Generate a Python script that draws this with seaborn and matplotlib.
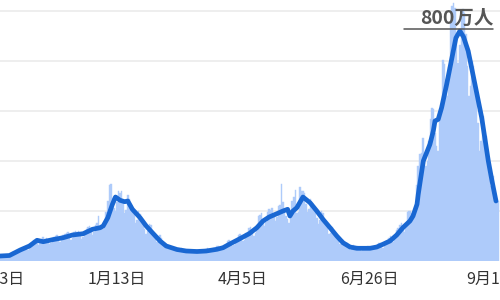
import numpy as np
import pandas as pd
import matplotlib
matplotlib.use("Agg")
import matplotlib.pyplot as plt
from matplotlib.lines import Line2D
import seaborn as sns

# ---- data (day index 0 = 10月23日) ----
tick_days = [0, 82, 164, 246, 328]
tick_labels = ["10月23日", "1月13日", "4月5日", "6月26日", "9月16日"]

daily_cases = [
    550, 580, 480, 420, 480, 560, 600,
    600, 630, 520, 450, 500, 620, 660,
    880, 950, 820, 760, 860, 1080, 1200,
    1350, 1450, 1300, 1150, 1300, 1550, 1700,
    2100, 2200, 1900, 1650, 1800, 2250, 2400,
    2250, 2350, 2000, 1700, 1850, 2300, 2450,
    2500, 2600, 2200, 1900, 2100, 2600, 2750,
    2800, 2900, 2450, 2100, 2300, 2900, 3050,
    2950, 3050, 2600, 2250, 2450, 3050, 3250,
    3450, 3550, 3000, 2600, 2900, 3600, 3800,
    4500, 3300, 3300, 3200, 3400, 4900, 6000,
    7600, 7700, 6300, 5300, 5000, 5900, 7000,
    6800, 7000, 5800, 4800, 5100, 6600, 6200,
    5100, 5300, 4700, 3800, 4100, 5000, 4700,
    4000, 3800, 3200, 2700, 3000, 3700, 3600,
    2900, 2700, 2300, 1900, 2050, 2600, 2300,
    1800, 1700, 1450, 1200, 1350, 1450, 1400,
    1350, 1300, 1150, 950, 1050, 1300, 1250,
    1150, 1150, 1000, 850, 920, 1100, 1100,
    1100, 1100, 950, 820, 880, 1050, 1050,
    1250, 1300, 1100, 950, 1000, 1300, 1300,
    1500, 1500, 1300, 1100, 1200, 1550, 1600,
    2000, 2100, 1800, 1500, 1650, 2100, 2200,
    2600, 2750, 2350, 2000, 2150, 2800, 2900,
    3300, 3400, 2900, 2500, 2800, 3500, 4500,
    4600, 4800, 4000, 3500, 3900, 4900, 5200,
    5100, 5300, 4600, 4000, 4400, 5500, 5600,
    7700, 5900, 5000, 4500, 4200, 3800, 4300,
    6000, 6400, 7100, 4800, 4900, 7400, 7000,
    7000, 6800, 5700, 4900, 5200, 6200, 5800,
    5500, 5300, 4300, 3700, 4100, 5000, 4800,
    4200, 4000, 3400, 2700, 2800, 3400, 3100,
    2800, 2600, 2200, 1750, 1750, 2100, 1900,
    1850, 1800, 1450, 1100, 1200, 1600, 1550,
    1500, 1450, 1300, 1000, 1100, 1450, 1450,
    1550, 1500, 1350, 1100, 1150, 1500, 1550,
    1800, 1850, 1650, 1350, 1500, 2000, 2100,
    2300, 2500, 2200, 1900, 2300, 3100, 3300,
    3600, 3800, 3200, 2900, 3500, 4900, 5000,
    5000, 4800, 4400, 4700, 7600, 9500, 10700,
    10800, 12300, 10500, 9500, 10000, 12000, 14200,
    15300, 15200, 12800, 11500, 11000, 14400, 15400,
    20100, 19700, 18200, 16500, 19400, 23900, 25500,
    25800, 25300, 22500, 19800, 21600, 24900, 25200,
    24800, 22700, 19500, 16500, 17500, 20000, 19500,
    17500, 16000, 13800, 11000, 12000, 14500, 13000,
    12500, 11000, 9300, 7500, 7500, 8500, 6200,
    6200, 6000,
]

avg_days = [0, 6, 12, 19, 25, 30, 34, 40, 47, 53, 60, 66, 71, 73, 76, 79, 81,
            84, 87, 89, 92, 97, 101, 105, 110, 114, 121, 127, 134, 140, 147,
            151, 155, 160, 164, 168, 173, 177, 181, 186, 190, 193, 194.5,
            196.5, 199, 203, 207.6, 212, 216, 220.6, 225, 229, 233.6, 238,
            242, 246.6, 251, 255, 259.6, 264, 268, 272.6, 274.6, 277.2, 278,
            281.3, 285.6, 287.8, 288.9, 291, 293.2, 296.5, 300.8, 302.5,
            305.1, 307.5, 310.5, 314.9, 319.3, 323.6, 326, 328.6]
avg_cases = [480, 500, 550, 1100, 1500, 2070, 1930, 2130, 2330, 2600, 2730,
             3170, 3330, 3500, 4330, 5670, 6400, 6070, 5930, 6000, 5170, 4330,
             3500, 2830, 2000, 1500, 1150, 1000, 950, 1000, 1170, 1330, 1670,
             2070, 2400, 2730, 3330, 4000, 4400, 4730, 5000, 5170, 4500, 5000,
             5330, 6400, 5830, 5000, 4170, 3330, 2500, 1830, 1400, 1270, 1270,
             1270, 1400, 1670, 2000, 2600, 3330, 4000, 4500, 5670, 6670, 10000,
             11670, 13000, 14000, 14170, 15330, 17670, 21000, 22300, 23000,
             22400, 21000, 17670, 14330, 10000, 8000, 6000]

bars_df = pd.DataFrame({"day": np.arange(len(daily_cases)), "cases": daily_cases})
avg_df = pd.DataFrame({"day": avg_days, "cases": avg_cases})

BAR = "#aecbfa"
LINE = "#1967d2"

sns.set_theme(style="white")
plt.rcParams["font.family"] = ["Noto Sans CJK JP", "DejaVu Sans"]

fig = plt.figure(figsize=(5, 3), dpi=100)
ax = fig.add_axes([-0.08, 0.13, 1.08, 0.87])

sns.barplot(data=bars_df, x="day", y="cases", native_scale=True, width=1.0,
            color=BAR, saturation=1, linewidth=0.3, edgecolor=BAR,
            errorbar=None, ax=ax, zorder=2)
sns.lineplot(data=avg_df, x="day", y="cases", color=LINE, linewidth=3.4,
             solid_capstyle="round", solid_joinstyle="round", ax=ax, zorder=3)

ax.set_xlim(-20.17, 331.2)
ax.set_ylim(0, 26100)
ax.set_yticks([5000, 10000, 15000, 20000, 25000])
ax.yaxis.grid(True, color="#eeeeee", linewidth=1.4, zorder=0)
ax.xaxis.grid(False)
ax.set_axisbelow(True)
ax.tick_params(axis="y", left=False, labelleft=False)
ax.set_xticks(tick_days)
ax.set_xticklabels(tick_labels, fontsize=11.5, color="#333333")
ax.tick_params(axis="x", length=0, pad=7)
ax.set_xlabel("")
ax.set_ylabel("")
for s in ax.spines.values():
    s.set_visible(False)

fig.text(0.914, 0.94, "800万人", ha="center", va="center", fontsize=14,
         fontweight="bold", color="#555555")
fig.add_artist(Line2D([404 / 500, 493 / 500], [1 - 29 / 300, 1 - 29 / 300],
                      color="#555555", linewidth=1.1))

fig.savefig("out.png", dpi=100)
